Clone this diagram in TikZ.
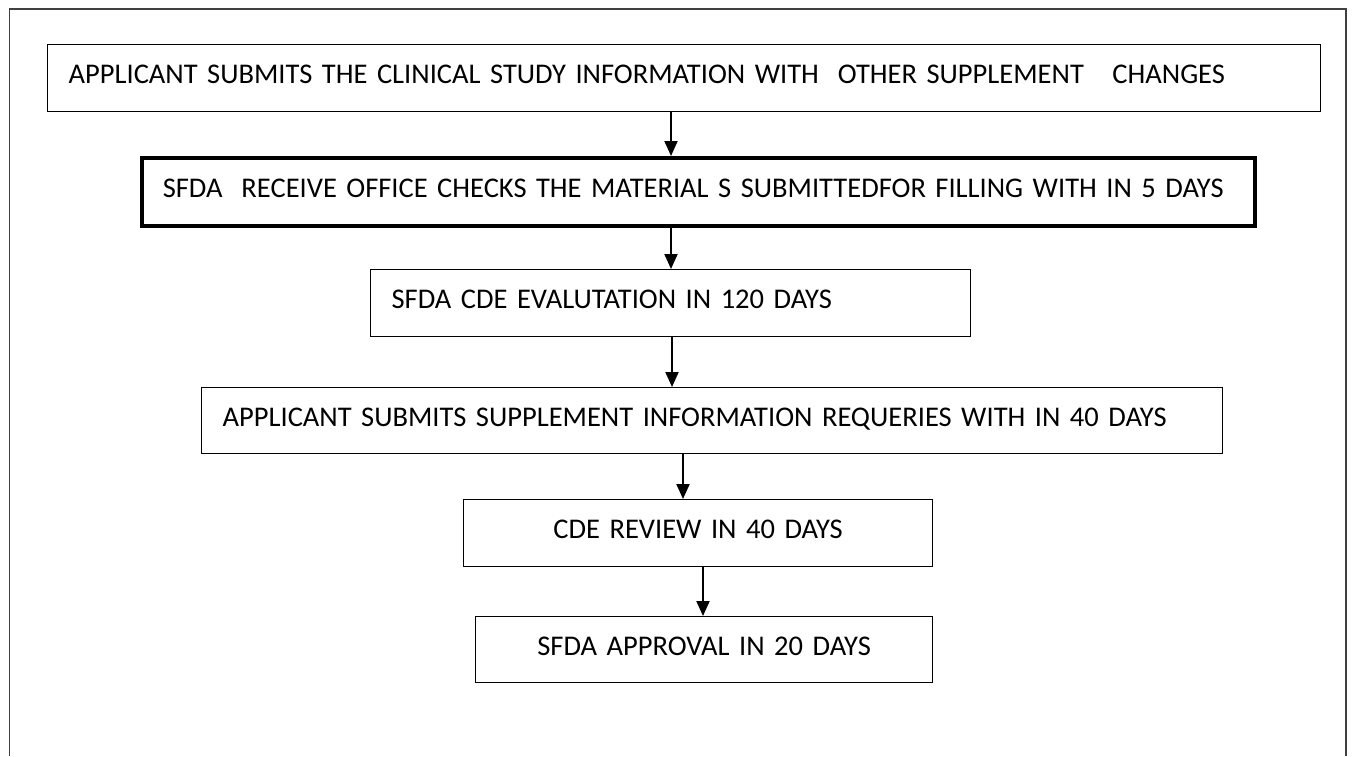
\documentclass[tikz,border=0pt]{standalone}
\usepackage{fontspec}
\setmainfont{Carlito}
\usetikzlibrary{%
	arrows.meta,% wg. Triangle
	positioning%
}
\tikzstyle{stage} = [draw, line width=1.3pt, anchor=north west, inner xsep=21pt, inner ysep=0pt, text height=18.5pt, text depth=7pt, font=\fontsize{28.5}{34}\selectfont]
\tikzstyle{thickstage} = [stage, line width=3.5pt]
\tikzstyle{flow} = [draw, line width=2pt, -{Triangle[width=13pt,length=15pt]}]
\tikzstyle{frame} = [draw=black!75, line width=1.8pt]

\begin{document}
\begin{tikzpicture}[x=1pt,y=-1pt]
	\useasboundingbox (0,0) rectangle (1352,756);
	
	% Outer frame, open at the bottom
	\draw[frame] (9.5,756) -- (9.5,9) -- (1346,9) -- (1346,756);
	
	% First we draw the left aligned stages
	\foreach \pos/\name/\w/\h/\txt in {
		{(47,44)/b1/1273/67/{APPLICANT SUBMITS THE CLINICAL STUDY INFORMATION WITH\ \ OTHER SUPPLEMENT\ \ \ CHANGES}},
		{(370,269)/b3/600/67/{SFDA CDE EVALUTATION IN 120 DAYS}},
		{(201,387)/b4/1021/66/{APPLICANT SUBMITS SUPPLEMENT INFORMATION REQUERIES WITH IN 40 DAYS}}}
	{
		\pgfmathsetmacro\tw{\w-42}
		\node[stage, text width=\tw pt, minimum height=\h pt, align=left] (\name) at \pos {\txt};
	}
	
	% The stage with the heavy border
	\node[thickstage, text width=1071pt, minimum height=68pt, align=left] (b2) at (140,156) {SFDA\ \ RECEIVE OFFICE CHECKS THE MATERIAL S SUBMITTEDFOR FILLING WITH IN 5 DAYS};
	
	% Then the centred stages
	\foreach \pos/\name/\w/\h/\txt in {
		{(463,499)/b5/469/67/{CDE REVIEW IN 40 DAYS}},
		{(475,616)/b6/457/66/{SFDA APPROVAL IN 20 DAYS}}}
	{
		\pgfmathsetmacro\tw{\w-42}
		\node[stage, text width=\tw pt, minimum height=\h pt, align=center] (\name) at \pos {\txt};
	}
	
	% Connect stages with arrows
	\foreach \source/\dest/\x in {b1/b2/671, b2/b3/671, b3/b4/672, b4/b5/683, b5/b6/703}
	\path[flow] (\source.south -| \x,0) -- (\dest.north -| \x,0);
	
\end{tikzpicture}
\end{document}
